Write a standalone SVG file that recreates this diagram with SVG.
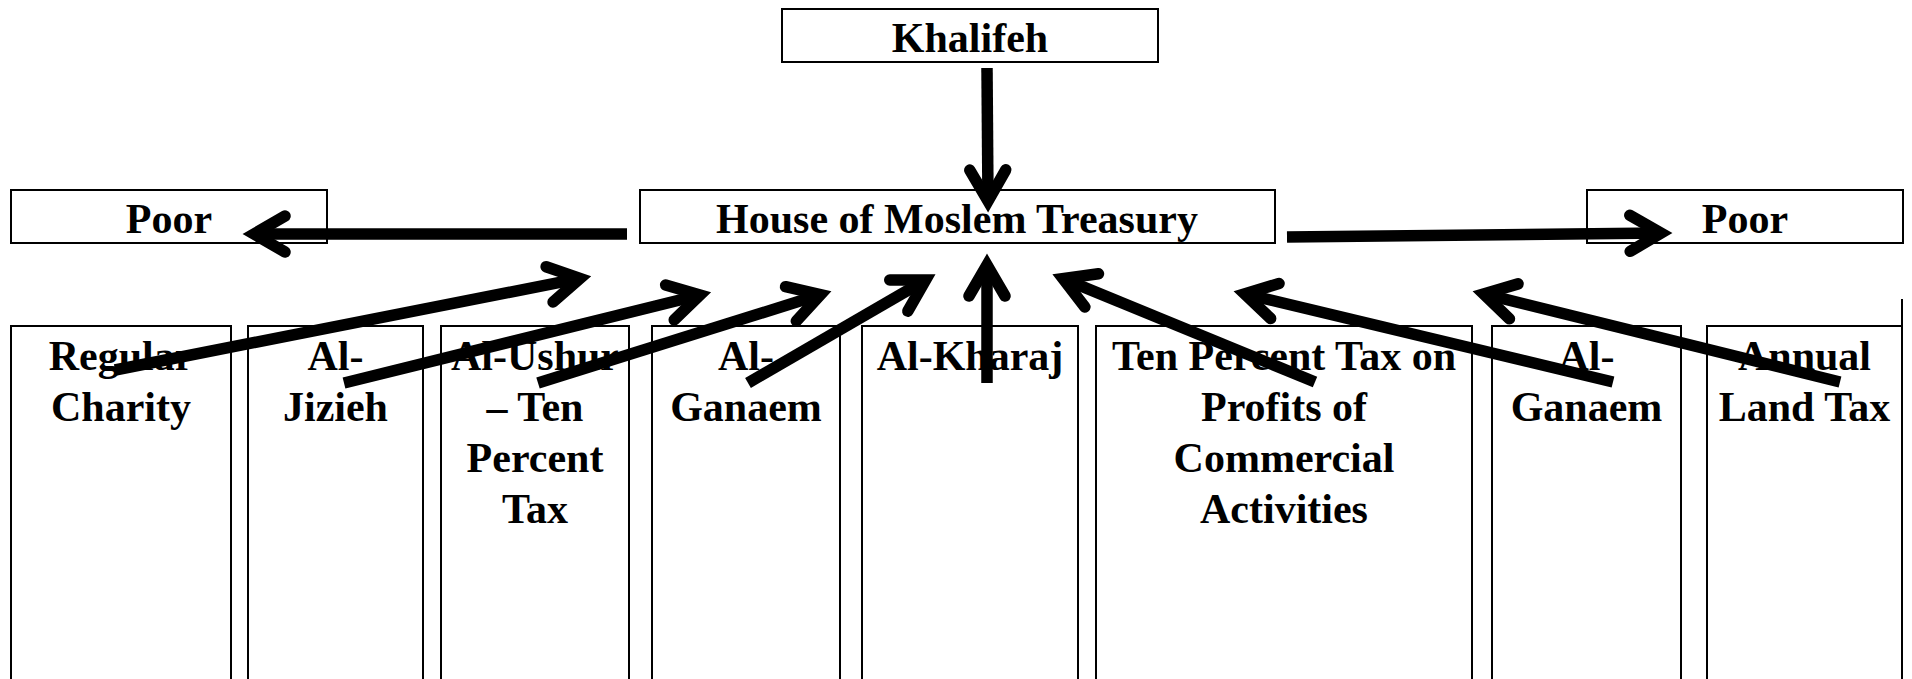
<svg xmlns="http://www.w3.org/2000/svg" width="1912" height="679" viewBox="0 0 1912 679">
<style>
.box{fill:#fff;stroke:#000;stroke-width:2}
.t{font-family:"Liberation Serif","Times New Roman",serif;font-weight:bold;font-size:42px;fill:#000;text-anchor:middle}
.c{fill:none;stroke:#000;stroke-width:11.5;stroke-linecap:butt}
</style>
<defs>
<marker id="ah" markerUnits="userSpaceOnUse" orient="auto" refX="0" refY="0" markerWidth="80" markerHeight="80" viewBox="-40 -40 80 80" overflow="visible">
<polyline points="-31,-18 0,0 -31,18" fill="none" stroke="#000" stroke-width="11.5" stroke-linecap="round" stroke-linejoin="miter"/>
</marker>
</defs>
<rect width="1912" height="679" fill="#fff"/>
<g id="khalifeh"><rect class="box" x="782" y="9" width="376" height="53"/><text class="t" x="970" y="52">Khalifeh</text></g>
<g id="poor-left"><rect class="box" x="11" y="190" width="316" height="53"/><text class="t" x="169" y="233">Poor</text></g>
<g id="treasury"><rect class="box" x="640" y="190" width="635" height="53"/><text class="t" x="957" y="233">House of Moslem Treasury</text></g>
<g id="poor-right"><rect class="box" x="1587" y="190" width="316" height="53"/><text class="t" x="1745" y="233">Poor</text></g>
<g id="regular-charity"><rect class="box" x="11" y="326" width="220" height="370"/><text class="t" x="121" y="370">Regular<tspan x="121" y="421">Charity</tspan></text></g>
<g id="al-jizieh"><rect class="box" x="248" y="326" width="175" height="370"/><text class="t" x="335.5" y="370">Al-<tspan x="335.5" y="421">Jizieh</tspan></text></g>
<g id="al-ushur"><rect class="box" x="441" y="326" width="188" height="370"/><text class="t" x="535" y="370">Al-Ushur<tspan x="535" y="421">– Ten</tspan><tspan x="535" y="472">Percent</tspan><tspan x="535" y="523">Tax</tspan></text></g>
<g id="al-ganaem-1"><rect class="box" x="652" y="326" width="188" height="370"/><text class="t" x="746" y="370">Al-<tspan x="746" y="421">Ganaem</tspan></text></g>
<g id="al-kharaj"><rect class="box" x="862" y="326" width="216" height="370"/><text class="t" x="970" y="370">Al-Kharaj</text></g>
<g id="ten-percent"><rect class="box" x="1096" y="326" width="376" height="370"/><text class="t" x="1284" y="370">Ten Percent Tax on<tspan x="1284" y="421">Profits of</tspan><tspan x="1284" y="472">Commercial</tspan><tspan x="1284" y="523">Activities</tspan></text></g>
<g id="al-ganaem-2"><rect class="box" x="1492" y="326" width="189" height="370"/><text class="t" x="1586.5" y="370">Al-<tspan x="1586.5" y="421">Ganaem</tspan></text></g>
<g id="annual-land-tax"><rect class="box" x="1707" y="326" width="195" height="370"/><line x1="1902" y1="299" x2="1902" y2="327" stroke="#000" stroke-width="2"/><text class="t" x="1804.5" y="370">Annual<tspan x="1804.5" y="421">Land Tax</tspan></text></g>
<g id="connectors">
<line class="c" x1="627" y1="234" x2="254" y2="234" marker-end="url(#ah)"/>
<line class="c" x1="1287" y1="237" x2="1661" y2="233" marker-end="url(#ah)"/>
<line class="c" x1="987" y1="68" x2="988" y2="201" marker-end="url(#ah)"/>
<line class="c" x1="987" y1="383" x2="987" y2="265" marker-end="url(#ah)"/>
<line class="c" x1="115" y1="370" x2="580" y2="278.4" marker-end="url(#ah)"/>
<line class="c" x1="344" y1="383" x2="700" y2="295" marker-end="url(#ah)"/>
<line class="c" x1="538" y1="383" x2="820.5" y2="294.6" marker-end="url(#ah)"/>
<line class="c" x1="748" y1="383" x2="925.6" y2="280" marker-end="url(#ah)"/>
<line class="c" x1="1315" y1="382" x2="1063" y2="278.6" marker-end="url(#ah)"/>
<line class="c" x1="1613" y1="382" x2="1244.7" y2="293.8" marker-end="url(#ah)"/>
<line class="c" x1="1840" y1="382" x2="1483.7" y2="293.9" marker-end="url(#ah)"/>
</g>
</svg>
